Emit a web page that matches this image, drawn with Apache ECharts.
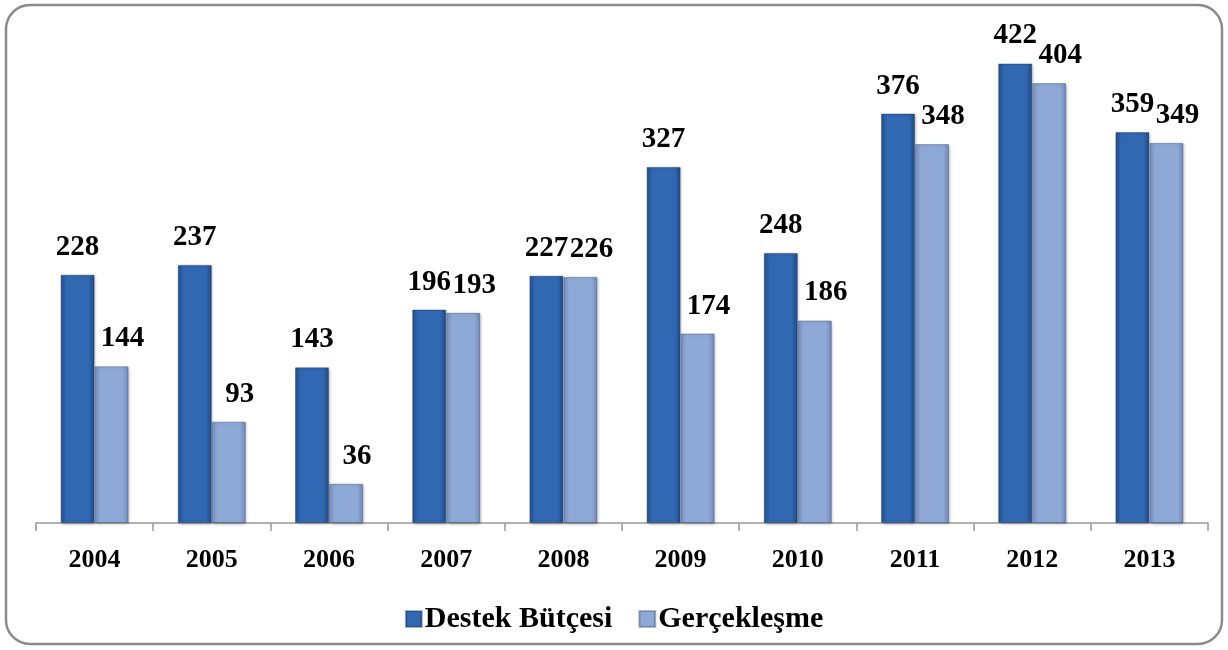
<!DOCTYPE html>
<html>
<head>
<meta charset="utf-8">
<script src="https://cdn.jsdelivr.net/npm/echarts@6/dist/echarts.min.js"></script>
<style>
  html, body { margin: 0; padding: 0; background: #fff; }
  #chart { width: 1228px; height: 650px; }
</style>
</head>
<body>
<div id="chart"></div>
<script>
const years = ['2004', '2005', '2006', '2007', '2008', '2009', '2010', '2011', '2012', '2013'];
const butce = [228, 237, 143, 196, 227, 327, 248, 376, 422, 359];
const gerceklesme = [144, 93, 36, 193, 226, 174, 186, 348, 404, 349];

const font = '"Liberation Serif", "Times New Roman", serif';

const hGrad = (edge, mid, edge2) => new echarts.graphic.LinearGradient(0, 0, 1, 0, [
  { offset: 0, color: edge },
  { offset: 0.18, color: mid },
  { offset: 0.82, color: mid },
  { offset: 1, color: edge2 }
]);

const chart = echarts.init(document.getElementById('chart'));

const labelStyle = (dx) => ({
  show: true,
  position: 'top',
  distance: 13,
  offset: [dx, 0],
  color: '#000',
  fontFamily: font,
  fontWeight: 'bold',
  fontSize: 29
});

chart.setOption({
  animation: false,
  graphic: [{
    type: 'rect',
    shape: { x: 6, y: 5, width: 1216, height: 639, r: 24 },
    style: { fill: 'none', stroke: '#8a8a8a', lineWidth: 2.5 },
    z: -1
  }],
  legend: {
    data: ['Destek Bütçesi', 'Gerçekleşme'],
    left: 'center',
    top: 599,
    itemWidth: 16,
    itemHeight: 16,
    itemGap: 26,
    textStyle: { fontFamily: font, fontWeight: 'bold', fontSize: 30, color: '#000', padding: [0, 0, 0, -2] },
    icon: 'rect'
  },
  grid: { left: 36, right: 20, top: 33, bottom: 127 },
  xAxis: {
    type: 'category',
    data: years,
    axisLine: { lineStyle: { color: '#999', width: 1.5 } },
    axisTick: { show: true, length: 8, lineStyle: { color: '#999', width: 1.5 } },
    axisLabel: { color: '#000', fontFamily: font, fontWeight: 'bold', fontSize: 26, margin: 24 }
  },
  yAxis: {
    type: 'value',
    min: 0,
    max: 450,
    show: false,
    splitLine: { show: false }
  },
  series: [
    {
      name: 'Destek Bütçesi',
      type: 'bar',
      data: butce,
      barWidth: 34,
      barGap: '0%',
      itemStyle: {
        color: hGrad('#23508f', '#3068b2', '#1f4a86'),
        borderColor: 'rgba(20,40,80,0.35)',
        borderWidth: 1,
        shadowColor: 'rgba(0,0,0,0.3)',
        shadowBlur: 3,
        shadowOffsetX: 1,
        shadowOffsetY: 1
      },
      label: labelStyle(0)
    },
    {
      name: 'Gerçekleşme',
      type: 'bar',
      data: gerceklesme,
      barWidth: 34,
      itemStyle: {
        color: hGrad('#7590c3', '#8fa9d7', '#7089bc'),
        borderColor: 'rgba(40,60,100,0.35)',
        borderWidth: 1,
        shadowColor: 'rgba(0,0,0,0.3)',
        shadowBlur: 3,
        shadowOffsetX: 1,
        shadowOffsetY: 1
      },
      label: labelStyle(11)
    }
  ]
});
</script>
</body>
</html>
